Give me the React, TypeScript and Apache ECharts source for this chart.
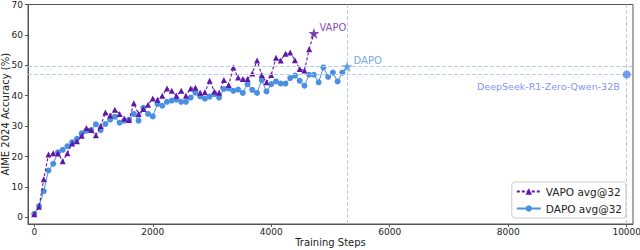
import React, { useEffect, useRef } from "react";
import * as echarts from "echarts";

// evaluation every 80 training steps
const STEP_INTERVAL = 80;

const VAPO_ACC = [
  1.0, 3.5, 12.5, 20.7, 21.1, 21.0, 18.4, 21.1, 24.3, 25.0,
  26.8, 29.4, 28.7, 27.0, 30.0, 34.5, 33.5, 35.4, 34.0, 32.5,
  32.0, 37.5, 34.0, 35.6, 37.0, 39.1, 38.7, 40.0, 42.4, 41.6,
  40.0, 41.6, 40.0, 42.4, 42.6, 41.0, 41.1, 44.9, 41.4, 41.0,
  45.2, 43.5, 49.3, 46.0, 45.5, 45.5, 47.3, 51.6, 46.8, 44.4,
  46.8, 52.5, 51.6, 53.8, 54.2, 51.7, 48.8, 48.3, 55.3, 60.5,
];

const DAPO_ACC = [
  1.1, 3.7, 8.6, 15.4, 17.6, 21.4, 22.2, 23.4, 24.7, 25.8,
  27.6, 28.5, 28.7, 30.6, 28.7, 30.7, 32.1, 33.1, 31.1, 31.8,
  32.1, 34.0, 31.8, 36.0, 34.0, 33.2, 37.3, 36.7, 38.0, 38.4,
  38.7, 38.0, 38.0, 39.4, 41.0, 39.8, 39.0, 39.7, 40.5, 39.4,
  42.2, 42.4, 41.6, 42.0, 40.9, 43.8, 41.9, 40.9, 45.1, 41.4,
  43.8, 44.7, 44.0, 44.0, 45.8, 46.6, 44.9, 43.3, 46.9, 46.9,
  44.4, 49.3, 46.2, 47.6, 44.7, 47.6, 49.6,
];

const DEEPSEEK_STEP = [10000];
const DEEPSEEK_ACC = [47.0];
const DEEPSEEK_NAME = "DeepSeek-R1-Zero-Qwen-32B";

const X_TICKS = [0, 2000, 4000, 6000, 8000, 10000];
const Y_TICKS = [0, 10, 20, 30, 40, 50, 60, 70];
const X_RANGE = [-106, 10106];
const Y_RANGE = [-2.2, 70];

const VAPO_COLOR = "#5e17a8";
const DAPO_COLOR = "#4a90e2";
const DS_COLOR = "#4f86ee";
const DS_LABEL_COLOR = "#6272f2";
const REF_COLOR = "#b9cbf3";
const FONT = "DejaVu Sans";

const STAR =
  "path://M50,2 L61.8,37.6 L99,37.6 L68.9,59.6 L80.4,95.2 L50,73.2 L19.6,95.2 L31.1,59.6 L1,37.6 L38.2,37.6 Z";

export default function App() {
  const ref = useRef<HTMLDivElement>(null);
  useEffect(() => {
    const chart = echarts.init(ref.current!, null, { renderer: "svg" });
    const vapo = VAPO_ACC.map((v, i) => [i * STEP_INTERVAL, v]);
    const dapo = DAPO_ACC.map((v, i) => [i * STEP_INTERVAL, v]);
    const vLast = vapo[vapo.length - 1];
    const dLast = dapo[dapo.length - 1];
    const ds = DEEPSEEK_STEP.map((s, i) => [s, DEEPSEEK_ACC[i]]);

    const option: any = {
      animation: false,
      textStyle: { fontFamily: FONT },
      grid: {
        left: 28,
        right: 7,
        top: 4.5,
        bottom: 26,
        outerBoundsMode: "none",
        containLabel: false,
        show: true,
        borderColor: "#555",
        borderWidth: 1,
        backgroundColor: "transparent",
      },
      legend: {
        data: ["VAPO avg@32", "DAPO avg@32"],
        orient: "vertical",
        right: 14,
        bottom: 32,
        itemWidth: 24,
        itemHeight: 8,
        itemGap: 6,
        padding: [4, 4, 4, 4],
        borderColor: "#cccccc",
        borderWidth: 1,
        borderRadius: 3,
        backgroundColor: "#ffffff",
        textStyle: { fontSize: 10.5, color: "#222", fontFamily: FONT },
      },
      xAxis: {
        type: "value",
        min: X_RANGE[0],
        max: X_RANGE[1],
        name: "Training Steps",
        nameLocation: "middle",
        nameGap: 13,
        nameMoveOverlap: false,
        nameTextStyle: { fontSize: 10, color: "#222", fontFamily: FONT },
        axisLine: { show: true, onZero: false, lineStyle: { color: "#555", width: 1 } },
        axisTick: { show: true, length: 3, customValues: X_TICKS, lineStyle: { color: "#555" } },
        axisLabel: {
          customValues: X_TICKS,
          formatter: (v: number) => String(v),
          fontSize: 9,
          color: "#222",
          margin: 3,
          fontFamily: FONT,
        },
        splitLine: { show: false },
      },
      yAxis: {
        type: "value",
        min: Y_RANGE[0],
        max: Y_RANGE[1],
        name: "AIME 2024 Accuracy (%)",
        nameLocation: "middle",
        nameGap: 18,
        nameMoveOverlap: false,
        nameRotate: 90,
        nameTextStyle: { fontSize: 10, color: "#222", fontFamily: FONT },
        axisLine: { show: true, onZero: false, lineStyle: { color: "#555", width: 1 } },
        axisTick: { show: true, length: 3, customValues: Y_TICKS, lineStyle: { color: "#555" } },
        axisLabel: {
          customValues: Y_TICKS,
          formatter: (v: number) => String(v),
          fontSize: 9,
          color: "#222",
          margin: 5,
          fontFamily: FONT,
        },
        splitLine: { show: false },
      },
      series: [
        {
          type: "line",
          name: "refs",
          data: [],
          z: 1,
          silent: true,
          markLine: {
            silent: true,
            symbol: ["none", "none"],
            label: { show: false },
            lineStyle: { color: REF_COLOR, type: [4, 2], width: 1 },
            data: [
              { yAxis: dLast[1] },
              { yAxis: ds[0][1] },
              { xAxis: dLast[0] },
              { xAxis: ds[0][0] },
            ],
          },
        },
        {
          type: "line",
          name: "VAPO avg@32",
          data: vapo.slice(0, -1),
          z: 4,
          color: VAPO_COLOR,
          symbol: "triangle",
          symbolSize: 6,
          showAllSymbol: true,
          clip: false,
          lineStyle: { color: VAPO_COLOR, width: 1.1, type: [3, 2] },
          itemStyle: { color: VAPO_COLOR },
        },
        {
          type: "line",
          name: "VAPO tail",
          data: vapo.slice(-2),
          z: 4,
          symbol: "none",
          clip: false,
          lineStyle: { color: VAPO_COLOR, width: 1.1, type: [3, 2] },
        },
        {
          type: "line",
          name: "DAPO avg@32",
          data: dapo.slice(0, -1),
          z: 3,
          color: DAPO_COLOR,
          symbol: "circle",
          symbolSize: 6,
          showAllSymbol: true,
          clip: false,
          lineStyle: { color: DAPO_COLOR, width: 1 },
          itemStyle: { color: DAPO_COLOR },
        },
        {
          type: "line",
          name: "DAPO tail",
          data: dapo.slice(-2),
          z: 3,
          symbol: "none",
          clip: false,
          lineStyle: { color: DAPO_COLOR, width: 1 },
        },
        {
          type: "scatter",
          name: "VAPO final",
          data: [vLast],
          z: 5,
          symbol: STAR,
          symbolSize: 11,
          itemStyle: { color: VAPO_COLOR },
          label: {
            show: true,
            position: "right",
            distance: 0,
            offset: [0, -6],
            formatter: "VAPO",
            color: VAPO_COLOR,
            fontSize: 10,
            fontFamily: FONT,
          },
        },
        {
          type: "scatter",
          name: "DAPO final",
          data: [dLast],
          z: 5,
          symbol: STAR,
          symbolSize: 11,
          itemStyle: { color: DAPO_COLOR },
          label: {
            show: true,
            position: "right",
            distance: 1,
            offset: [0, -6],
            formatter: "DAPO",
            color: DAPO_COLOR,
            fontSize: 10,
            fontFamily: FONT,
          },
        },
        {
          type: "scatter",
          name: DEEPSEEK_NAME,
          data: ds,
          z: 5,
          clip: false,
          symbol: "circle",
          symbolSize: 8,
          itemStyle: { color: DS_COLOR },
          label: {
            show: true,
            position: "left",
            distance: 3,
            offset: [0, 12],
            formatter: DEEPSEEK_NAME,
            color: DS_LABEL_COLOR,
            fontSize: 9.5,
            fontFamily: FONT,
          },
        },
      ],
    };
    chart.setOption(option);
    return () => chart.dispose();
  }, []);
  return (
    <div
      ref={ref}
      style={{ position: "absolute", left: 0, top: 0, width: 640, height: 250 }}
    />
  );
}
